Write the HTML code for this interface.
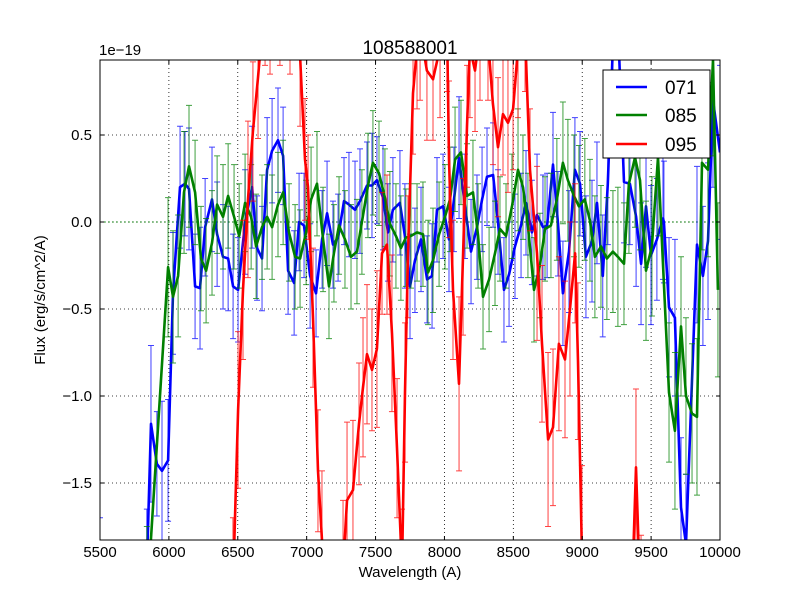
<!DOCTYPE html>
<html><head><meta charset="utf-8"><style>
html,body{margin:0;padding:0;background:#fff;overflow:hidden;width:800px;height:600px;}
svg{display:block;font-family:"Liberation Sans","DejaVu Sans",sans-serif;}
</style></head><body>
<svg id="chart" width="800" height="600" viewBox="0 0 800 600">
<rect x="0" y="0" width="800" height="600" fill="#fff"/>
<defs><clipPath id="pc"><rect x="100" y="60" width="620" height="480"/></clipPath></defs>
<g id="grid"></g>
<g id="series" clip-path="url(#pc)"></g>
<rect x="100" y="60" width="620" height="480" fill="none" stroke="#000" stroke-width="1"/>
<g id="ticks"></g>
<text x="410" y="54" text-anchor="middle" font-size="19">108588001</text>
<text x="99" y="55" font-size="15">1e−19</text>
<text x="410" y="577" text-anchor="middle" font-size="15">Wavelength (A)</text>
<text x="45" y="300" text-anchor="middle" font-size="15" transform="rotate(-90 45 300)">Flux (erg/s/cm^2/A)</text>
<g>
<rect x="603" y="70" width="107" height="88" fill="#fff" stroke="#000" stroke-width="1"/>
<g><line x1="616" y1="87" x2="647" y2="87" stroke="#0000ff" stroke-width="2.5"/><text x="665" y="94" font-size="19">071</text></g>
<g><line x1="616" y1="115" x2="647" y2="115" stroke="#008000" stroke-width="2.5"/><text x="665" y="122" font-size="19">085</text></g>
<g><line x1="616" y1="144" x2="647" y2="144" stroke="#ff0000" stroke-width="2.5"/><text x="665" y="151" font-size="19">095</text></g>
</g>
</svg>
<script>
const xTicks=[5500,6000,6500,7000,7500,8000,8500,9000,9500,10000];
const yTicks=[-1.5,-1.0,-0.5,0.0,0.5];
const yTickLabels=["−1.5","−1.0","−0.5","0.0","0.5"];
const blueX=[5500,5840,5870,5913,5950,5994,6030,6081,6117,6146,6190,6226,6263,6313,6350,6393,6430,6466,6502,6553,6604,6640,6676,6713,6749,6792,6829,6865,6909,6945,6981,7025,7068,7112,7148,7191,7228,7271,7307,7351,7387,7438,7474,7510,7554,7590,7626,7677,7713,7750,7786,7830,7874,7910,7946,7990,8033,8069,8106,8149,8193,8236,8273,8309,8353,8389,8432,8469,8512,8556,8592,8635,8672,8715,8745,8788,8824,8860,8904,8947,8984,9027,9071,9107,9149,9186,9222,9267,9303,9346,9391,9427,9463,9499,9542,9586,9593,9630,9673,9717,9753,9833,9876,9913,9949,10000];
const blueY=[-2.1,-2.0,-1.16,-1.39,-1.43,-1.37,-0.41,0.2,0.22,0.19,-0.37,-0.38,-0.03,0.13,-0.07,-0.2,-0.21,-0.37,-0.39,0.0,0.2,-0.15,-0.21,0.3,0.41,0.47,0.38,-0.28,-0.35,0.0,-0.02,-0.31,-0.41,-0.1,0.05,-0.13,-0.09,0.12,0.1,0.07,0.12,0.21,0.21,0.24,0.14,-0.06,0.07,0.11,-0.08,-0.37,-0.22,-0.1,-0.33,-0.31,0.07,0.09,-0.1,0.13,0.37,0.09,-0.17,-0.03,0.13,0.26,0.27,0.0,-0.39,-0.3,-0.14,-0.02,0.11,-0.06,0.04,-0.03,-0.02,0.33,-0.01,-0.41,-0.17,0.3,0.22,-0.2,-0.11,0.11,-0.31,0.22,1.0,0.98,0.23,0.22,0.03,-0.24,0.09,-0.19,-0.1,0.02,0.0,-0.49,-0.55,-1.64,-1.85,-0.13,-0.31,-0.11,0.7,0.4];
const blueErr=[0.4,0.35,0.45,0.3,0.4,0.35,0.35,0.35,0.3,0.35,0.3,0.35,0.28,0.3,0.3,0.3,0.3,0.3,0.3,0.3,0.35,0.3,0.3,0.3,0.3,0.3,0.28,0.25,0.3,0.28,0.3,0.3,0.25,0.28,0.3,0.25,0.25,0.25,0.3,0.28,0.3,0.25,0.3,0.25,0.3,0.28,0.3,0.3,0.3,0.3,0.3,0.3,0.25,0.3,0.3,0.3,0.3,0.3,0.35,0.3,0.3,0.3,0.3,0.28,0.3,0.3,0.3,0.3,0.3,0.3,0.3,0.3,0.35,0.3,0.3,0.3,0.3,0.3,0.35,0.3,0.3,0.35,0.35,0.35,0.35,0.35,0.35,0.35,0.35,0.35,0.4,0.35,0.35,0.4,0.35,0.35,0.35,0.4,0.45,0.4,0.4,0.45,0.4,0.45,0.5,0.5];
const greenX=[5840,5994,6030,6067,6110,6146,6190,6233,6270,6313,6350,6393,6430,6473,6510,6553,6597,6633,6676,6713,6749,6792,6829,6872,6916,6952,6996,7032,7075,7119,7162,7198,7235,7278,7322,7365,7401,7445,7481,7525,7568,7604,7648,7684,7720,7757,7801,7844,7881,7917,7961,8004,8040,8077,8120,8164,8207,8244,8280,8324,8367,8403,8447,8490,8534,8570,8606,8650,8693,8730,8773,8816,8860,8896,8940,8976,9019,9056,9092,9136,9179,9223,9259,9303,9339,9383,9419,9463,9506,9550,9630,9673,9717,9753,9797,9833,9869,9913,9949,9985];
const greenY=[-2.2,-0.26,-0.43,-0.31,0.17,0.32,0.17,-0.21,-0.28,-0.12,0.1,0.03,0.15,0.03,-0.08,0.11,0.03,-0.14,-0.03,0.03,-0.03,0.1,0.17,-0.06,-0.2,-0.21,-0.06,0.13,0.22,-0.1,-0.37,-0.18,-0.02,-0.1,-0.2,-0.17,0.0,0.21,0.34,0.28,0.14,-0.01,-0.08,-0.15,-0.09,-0.08,-0.06,-0.07,-0.29,-0.22,-0.07,0.03,0.13,0.36,0.4,0.15,0.17,-0.08,-0.43,-0.33,-0.18,-0.04,-0.08,0.09,0.3,0.2,-0.02,-0.39,-0.25,-0.04,-0.02,0.13,0.34,0.24,0.15,0.09,0.13,0.01,-0.2,-0.14,-0.21,-0.17,-0.2,-0.24,0.22,0.37,0.24,-0.28,-0.14,0.37,-0.98,-1.2,-0.6,-1.0,-1.1,-1.12,0.34,0.3,0.93,-0.39];
const greenErr=[0.45,0.4,0.38,0.35,0.35,0.35,0.3,0.3,0.3,0.3,0.28,0.3,0.3,0.3,0.3,0.28,0.3,0.3,0.3,0.3,0.3,0.3,0.3,0.28,0.3,0.28,0.3,0.3,0.3,0.3,0.3,0.28,0.28,0.28,0.3,0.3,0.3,0.3,0.3,0.3,0.28,0.3,0.3,0.3,0.28,0.3,0.28,0.3,0.3,0.3,0.3,0.3,0.3,0.3,0.3,0.3,0.3,0.3,0.3,0.3,0.3,0.3,0.3,0.3,0.35,0.3,0.3,0.3,0.3,0.3,0.3,0.35,0.35,0.35,0.35,0.35,0.35,0.35,0.35,0.35,0.35,0.35,0.4,0.35,0.4,0.4,0.4,0.4,0.4,0.45,0.4,0.45,0.4,0.45,0.4,0.45,0.5,0.5,0.55,0.5];
const redX=[6465,6502,6538,6574,6610,6647,6698,6734,6806,6879,6952,6988,7010,7046,7082,7111,7155,7264,7293,7336,7380,7409,7438,7474,7510,7547,7583,7619,7656,7692,7714,7735,7772,7801,7823,7873,7917,7968,8019,8033,8062,8106,8135,8164,8185,8222,8258,8316,8352,8389,8425,8461,8498,8534,8585,8621,8672,8708,8752,8788,8831,8875,8911,8948,8969,8998,9056,9347,9390,9427];
const redY=[-2.1,-1.08,-0.39,0.13,0.52,0.83,1.3,1.2,1.3,1.2,0.95,0.36,0.2,-0.55,-1.43,-1.83,-2.3,-2.0,-1.6,-1.54,-1.16,-0.95,-0.76,-0.85,-0.73,-0.18,-0.13,-0.64,-1.3,-2.0,-0.98,-0.2,0.74,1.0,1.1,0.87,0.82,1.0,1.1,0.36,-0.39,-0.93,-0.2,0.55,1.0,0.87,1.1,1.05,0.68,0.43,0.62,0.57,0.65,1.0,1.1,0.3,-0.18,-0.7,-1.25,-1.18,-0.7,-0.79,-0.5,-0.18,-0.8,-1.9,-2.5,-2.5,-1.41,-2.3];
const redErr=[0.4,0.45,0.4,0.45,0.4,0.35,0.4,0.35,0.4,0.35,0.4,0.35,0.3,0.4,0.35,0.4,0.4,0.4,0.45,0.4,0.35,0.4,0.4,0.35,0.45,0.35,0.4,0.45,0.4,0.35,0.4,0.35,0.35,0.35,0.4,0.4,0.35,0.4,0.35,0.45,0.4,0.5,0.45,0.35,0.4,0.35,0.4,0.35,0.35,0.4,0.35,0.4,0.35,0.4,0.35,0.35,0.5,0.45,0.5,0.45,0.5,0.45,0.5,0.4,0.45,0.5,0.5,0.5,0.45,0.5];

const NS="http://www.w3.org/2000/svg";
const X=v=>100+(v-5500)*620/4500;
const Y=v=>222-v*174;
function mk(tag,attrs,parent){const e=document.createElementNS(NS,tag);for(const k in attrs)e.setAttribute(k,attrs[k]);parent.appendChild(e);return e;}
const grid=document.getElementById('grid'),ticks=document.getElementById('ticks'),ser=document.getElementById('series');
xTicks.forEach(t=>{
  const x=X(t);
  if(t>5500&&t<10000){const g=mk('line',{x1:x,y1:60,x2:x,y2:540,stroke:'#000','stroke-width':0.8,'stroke-dasharray':'1,3'},grid);
  
  }
  mk('line',{x1:x,y1:540,x2:x,y2:536,stroke:'#000'},ticks);
  mk('line',{x1:x,y1:60,x2:x,y2:64,stroke:'#000'},ticks);
  const tx=mk('text',{x:x,y:557,'text-anchor':'middle','font-size':15},ticks);
  tx.textContent=t;
  
  
});
yTicks.forEach((t,i)=>{
  const y=Y(t);
  const g=mk('line',{x1:100,y1:y,x2:720,y2:y,stroke:'#000','stroke-width':0.8,'stroke-dasharray':'1,3'},grid);
  
  
  mk('line',{x1:100,y1:y,x2:104,y2:y,stroke:'#000'},ticks);
  mk('line',{x1:720,y1:y,x2:716,y2:y,stroke:'#000'},ticks);
  const tx=mk('text',{x:92,y:y+5,'text-anchor':'end','font-size':15},ticks);
  tx.textContent=yTickLabels[i];
  
  
});
const zl=mk('line',{x1:100,y1:Y(0),x2:720,y2:Y(0),stroke:'#008000','stroke-width':0.8,'stroke-dasharray':'2,2'},ser);


function drawSeries(xs,ys,es,color,name){
  const g=mk('g',{},ser);
  
  
  xs.forEach((xv,i)=>{
    const e=es[i]!==undefined?es[i]:0.3;
    const x=X(xv),y1=Y(ys[i]+e),y2=Y(ys[i]-e);
    const eb=mk('path',{d:`M${x},${y1}V${y2}M${x-3},${y1}H${x+3}M${x-3},${y2}H${x+3}`,stroke:color,'stroke-width':1,'stroke-opacity':0.75,fill:'none'},g);
    
    
  });
  const d=xs.map((xv,i)=>(i?'L':'M')+X(xv).toFixed(1)+','+Y(ys[i]).toFixed(1)).join('');
  const p=mk('path',{d:d,stroke:color,'stroke-width':2.6,fill:'none','stroke-linejoin':'round'},g);
  
  
}
drawSeries(blueX,blueY,blueErr,'#0000ff','series-071');
drawSeries(greenX,greenY,greenErr,'#008000','series-085');
drawSeries(redX,redY,redErr,'#ff0000','series-095');
</script>
</body></html>
